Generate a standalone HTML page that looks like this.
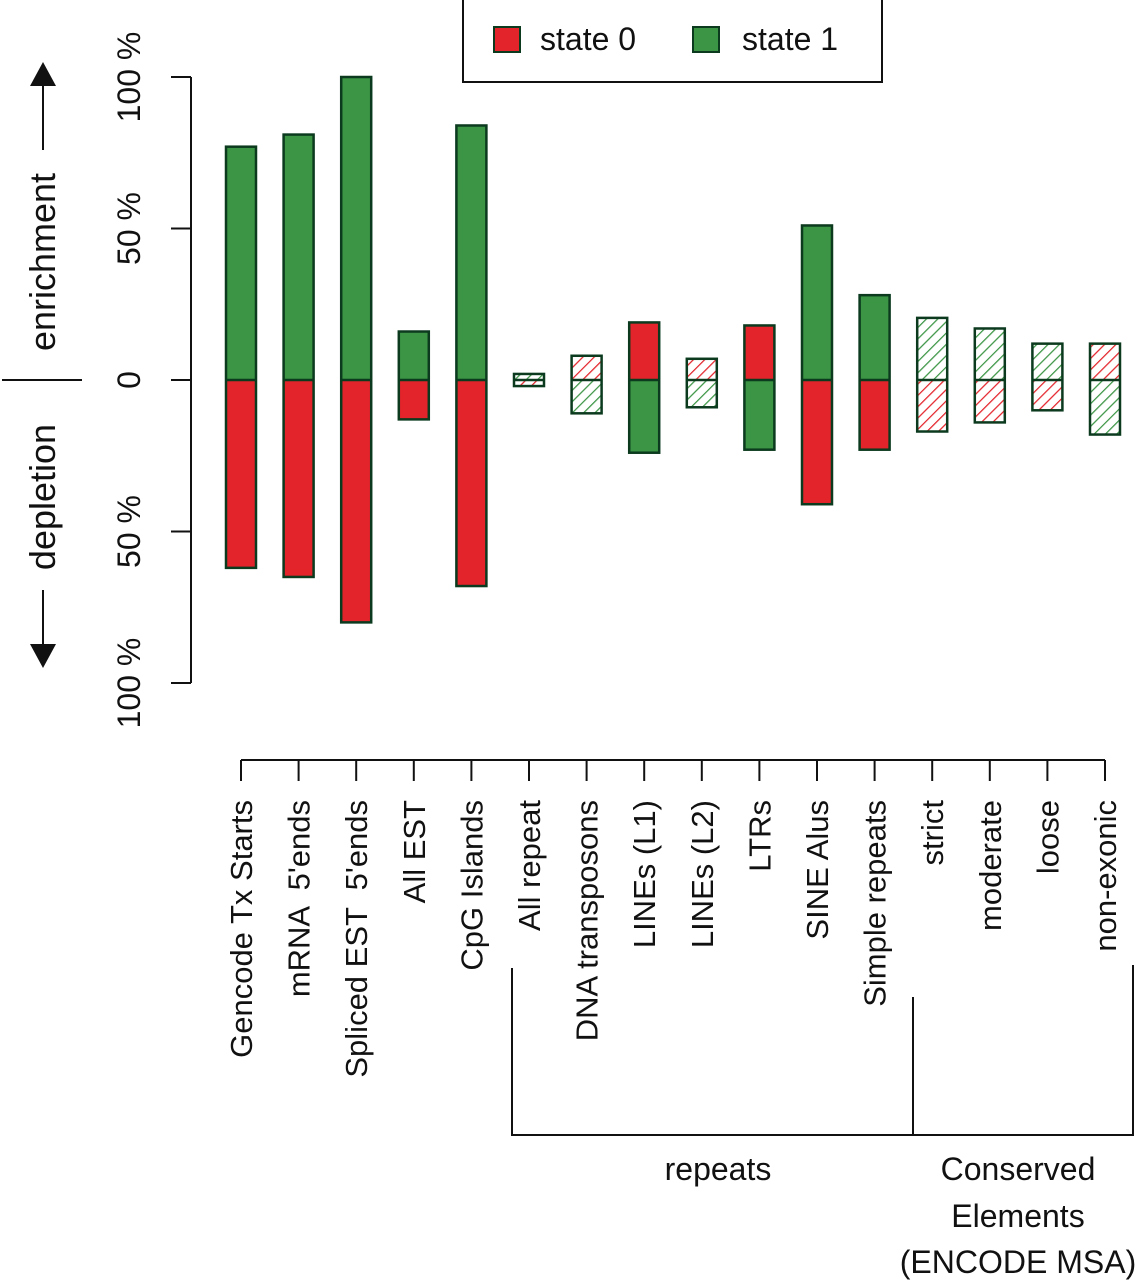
<!DOCTYPE html>
<html><head><meta charset="utf-8"><style>
html,body{margin:0;padding:0;background:#fff}
svg{display:block;font-family:"Liberation Sans",sans-serif}
</style></head><body>
<svg id="chart" width="1140" height="1280" viewBox="0 0 1140 1280" xmlns="http://www.w3.org/2000/svg">
<defs>
<pattern id="hatch-red" patternUnits="userSpaceOnUse" width="8" height="8" patternTransform="rotate(45)"><rect width="8" height="8" fill="#fff"/><line x1="0" y1="0" x2="0" y2="8" stroke="#e3242b" stroke-width="2.5"/></pattern>
<pattern id="hatch-green" patternUnits="userSpaceOnUse" width="8" height="8" patternTransform="rotate(45)"><rect width="8" height="8" fill="#fff"/><line x1="0" y1="0" x2="0" y2="8" stroke="#3b9544" stroke-width="2.5"/></pattern>
</defs>
<g id="legend">
<rect x="463" y="-2" width="419" height="84" fill="#fff" stroke="#111" stroke-width="2"/>
<rect x="494" y="27" width="26" height="25" fill="#e3242b" stroke="#0b3a1e" stroke-width="2"/>
<text x="540" y="50" font-size="32" fill="#111">state 0</text>
<rect x="693" y="27" width="26" height="25" fill="#3b9544" stroke="#0b3a1e" stroke-width="2"/>
<text x="742" y="50" font-size="32" fill="#111">state 1</text>
</g>
<g id="yaxis"></g>
<g id="bars"></g>
<g id="xaxis"></g>
<g font-size="36" fill="#111">
<text transform="translate(55,262) rotate(-90)" text-anchor="middle">enrichment</text>
<text transform="translate(55,497) rotate(-90)" text-anchor="middle">depletion</text>
<line x1="2" y1="380" x2="82" y2="380" stroke="#111" stroke-width="2"/>
<line x1="43" y1="150" x2="43" y2="80" stroke="#111" stroke-width="2"/>
<polygon points="43,62 30,86 56,86" fill="#111"/>
<line x1="43" y1="590" x2="43" y2="650" stroke="#111" stroke-width="2"/>
<polygon points="43,668 30,644 56,644" fill="#111"/>
</g>
<g stroke="#111" stroke-width="2" fill="none">
<polyline points="512,968 512,1135 913,1135"/>
<polyline points="913,997 913,1135 1133,1135 1133,965"/>
</g>
<g font-size="32" fill="#111" text-anchor="middle">
<text x="718" y="1180">repeats</text>
<text x="1018" y="1180">Conserved</text>
<text x="1018" y="1227">Elements</text>
<text x="1018" y="1273">(ENCODE MSA)</text>
</g>
</svg>
<script>
const categories=["Gencode Tx Starts","mRNA  5'ends","Spliced EST  5'ends","All EST","CpG Islands","All repeat","DNA transposons","LINEs (L1)","LINEs (L2)","LTRs","SINE Alus","Simple repeats","strict","moderate","loose","non-exonic"];
const upValues=[77,81,100,16,84,2,8,19,7,18,51,28,20.5,17,12,12];
const downValues=[62,65,80,13,68,2,11,24,9,23,41,23,17,14,10,18];
const upState=[1,1,1,1,1,1,0,0,0,0,1,1,1,1,1,0];
const hatched=[0,0,0,0,0,1,1,0,1,0,0,0,1,1,1,1];
const yTicks=[100,50,0,-50,-100];
const yTickLabels=["100 %","50 %","0","50 %","100 %"];

const NS="http://www.w3.org/2000/svg";
const y0=380, yScale=3.03;
function yPos(v){return y0-v*yScale;}
function xCenter(i){return 241+i*57.6;}
const barW=30;
function mk(tag,attrs,parent){const e=document.createElementNS(NS,tag);for(const k in attrs)e.setAttribute(k,attrs[k]);parent.appendChild(e);return e;}

const ya=document.getElementById('yaxis');
const yl=mk('line',{x1:191,y1:yPos(100),x2:191,y2:yPos(-100),stroke:'#111','stroke-width':2},ya);


yTicks.forEach((t,i)=>{
  const tk=mk('line',{x1:171,y1:yPos(t),x2:191,y2:yPos(t),stroke:'#111','stroke-width':2},ya);
  
  
  const tx=mk('text',{transform:`translate(140,${yPos(t)}) rotate(-90)`,'text-anchor':'middle','font-size':32,fill:'#111'},ya);
  
  
  tx.textContent=yTickLabels[i];
});

const colors=["#e3242b","#3b9544"];
const bg=document.getElementById('bars');
categories.forEach((c,i)=>{
  const x=xCenter(i)-barW/2;
  const us=upState[i], ds=1-us;
  const fill=s=>hatched[i]?(s===0?'url(#hatch-red)':'url(#hatch-green)'):colors[s];
  const r1=mk('rect',{x:x,y:yPos(upValues[i]),width:barW,height:upValues[i]*yScale,fill:fill(us)},bg);
  
  
  const r2=mk('rect',{x:x,y:y0,width:barW,height:downValues[i]*yScale,fill:fill(ds)},bg);
  
  
  const ol=mk('rect',{x:x,y:yPos(upValues[i]),width:barW,height:(upValues[i]+downValues[i])*yScale,fill:'none',stroke:'#0b3a1e','stroke-width':2.5},bg);
  
  
  const zl=mk('line',{x1:x,y1:y0,x2:x+barW,y2:y0,stroke:'#0b3a1e','stroke-width':2.5},bg);
  
  
});

const xa=document.getElementById('xaxis');
const xl=mk('line',{x1:xCenter(0),y1:760,x2:xCenter(categories.length-1),y2:760,stroke:'#111','stroke-width':2},xa);


categories.forEach((c,i)=>{
  const tk=mk('line',{x1:xCenter(i),y1:760,x2:xCenter(i),y2:781,stroke:'#111','stroke-width':2},xa);
  
  
  const tx=mk('text',{transform:`translate(${xCenter(i)+11},800) rotate(-90)`,'text-anchor':'end','font-size':31,fill:'#111'},xa);
  
  
  tx.style.whiteSpace='pre';
  tx.textContent=c;
});
</script>
</body></html>
